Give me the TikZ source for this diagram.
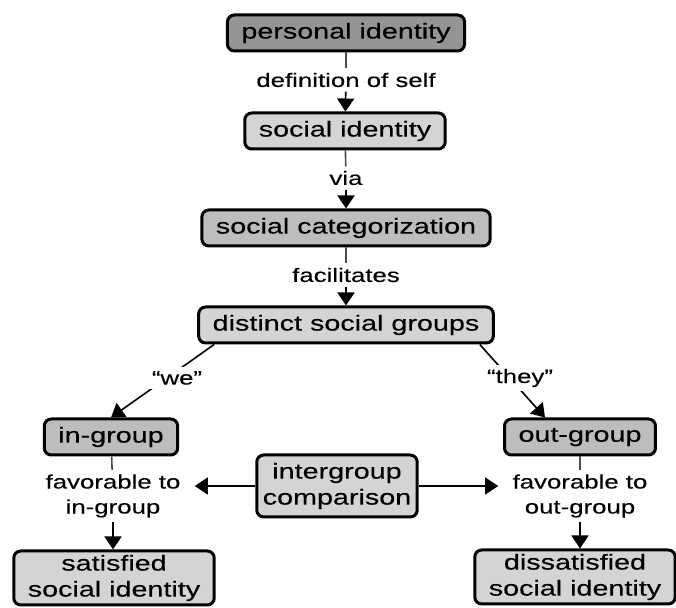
\documentclass[tikz,border=0pt]{standalone}
\usepackage{fontspec}
\setmainfont[FakeStretch=1.33, FakeBold=0.2]{Liberation Sans}
\usepackage{tikz}
\usetikzlibrary{arrows.meta, positioning}

\definecolor{gdark}{gray}{0.58}
\definecolor{gmid}{gray}{0.74}
\definecolor{glight}{gray}{0.83}

\begin{document}
\begin{tikzpicture}[
                      x=0.5pt, y=-0.5pt,
                      >={Triangle[length=6.5pt, width=8.5pt]},
                  ]
                  \tikzset{
                      box/.style = {draw=black, line width=1.5pt, rounded corners=3.5pt,
                                    inner xsep=7pt, inner ysep=0pt, minimum height=18pt,
                                    align=center, font=\fontsize{10.8pt}{13pt}\selectfont},
                      box_dark/.style = {box, fill=gdark},
                      box_mid/.style = {box, fill=gmid},
                      box_light/.style = {box, fill=glight},
                      lbl/.style = {fill=white, inner sep=2pt, align=center,
                                    font=\fontsize{9.7pt}{12.5pt}\selectfont},
                      link_in/.style = {line width=0.8pt, gray!60!black},
                      link_out/.style = {->, line width=0.8pt, black},
                  }
                  \useasboundingbox (0,0) rectangle (676,608);

                  % Chain of boxes
                  \node[box_dark] (pers) at (346,33) {personal identity};
                  \node[box_light] (soc) at (345,131) {social identity};
                  \node[box_mid] (cat) at (346,228) {social categorization};
                  \node[box_light] (groups) at (346,325) {distinct social groups};

                  % Two groups
                  \node[box_mid] (ingrp) at (111,437) {in-group};
                  \node[box_mid] (outgrp) at (580,437) {out-group};
                  \node[box_light, inner xsep=3pt, minimum height=31pt] (comp) at (337,486) {intergroup\\comparison};

                  % Outcomes
                  \node[box_light, minimum height=27pt] (sat) at (114,578) {satisfied\\social identity};
                  \node[box_light, minimum height=27pt] (dissat) at (575,577) {dissatisfied\\social identity};

                  % Labels on the links
                  \node[lbl] (l_def) at (346,80) {definition of self};
                  \node[lbl] (l_via) at (346,178) {via};
                  \node[lbl] (l_fac) at (346,275) {facilitates};
                  \node[lbl] (l_in) at (113,496) {favorable to\\in-group};
                  \node[lbl] (l_out) at (580,496) {favorable to\\out-group};

                  % Vertical links
                  \draw[link_in] (pers) -- (l_def);
                  \draw[link_out] (l_def) -- (soc);
                  \draw[link_in] (soc) -- (l_via);
                  \draw[link_out] (l_via) -- (cat);
                  \draw[link_in] (cat) -- (l_fac);
                  \draw[link_out] (l_fac) -- (groups);

                  % Split into groups
                  \draw[link_out] ([xshift=8.5pt]groups.south west) -- (ingrp.north);
                  \draw[link_out] ([xshift=-7.5pt]groups.south east) -- ([xshift=-17.5pt]outgrp.north);
                  \node[lbl] (l_we) at (177,378) {“we”};
                  \node[lbl] (l_they) at (520,378) {“they”};

                  % Group outcomes
                  \draw[link_in] (ingrp) -- (l_in);
                  \draw[link_out] (l_in.south) -- (l_in.south |- sat.north);
                  \draw[link_in] (outgrp) -- (l_out);
                  \draw[link_out] (l_out.south) -- (l_out.south |- dissat.north);

                  % Comparison
                  \draw[link_out] (comp.west) -- ([xshift=5pt]comp.west -| l_in.east);
                  \draw[link_out] (comp.east) -- ([xshift=-5pt]comp.east -| l_out.west);

              \end{tikzpicture}
\end{document}
